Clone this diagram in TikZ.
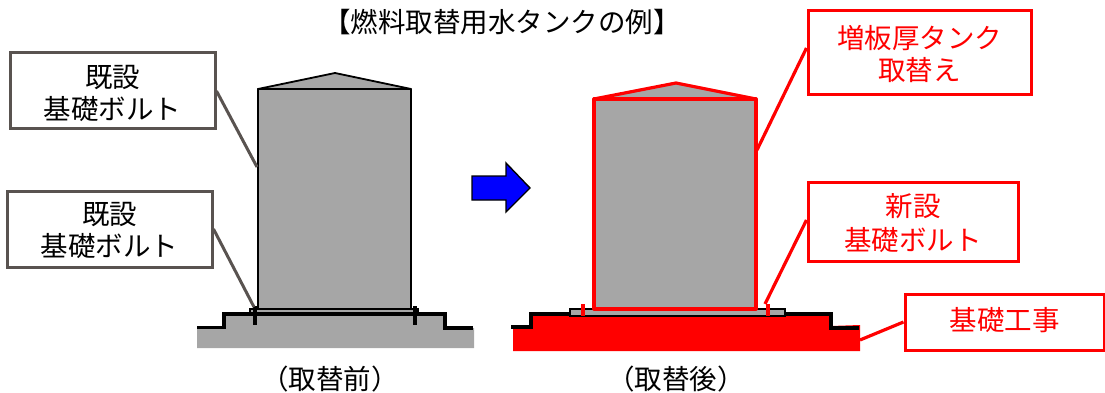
\documentclass[tikz,border=0pt]{standalone}
\usepackage{fontspec}
\setmainfont{Noto Sans CJK JP}
\definecolor{tankgray}{HTML}{A6A6A6}
\definecolor{boxgray}{HTML}{595350}
\definecolor{arrowblue}{HTML}{0000FF}
\newcommand\lowertext[2]{\raisebox{0pt}[\dimexpr\height+#1\relax][\depth]{\begin{tabular}{@{}c@{}}#2\end{tabular}}}
\tikzset{
  lab/.style={font=\fontsize{27.5}{32}\selectfont,align=center,inner sep=0pt,fill=white,line width=3pt},
  graybox/.style={lab,draw=boxgray,text=black},
  redbox/.style={lab,draw=red,text=red},
  plain/.style={font=\fontsize{27.5}{32}\selectfont,inner sep=0pt},
  leadgray/.style={draw=boxgray,line width=3pt},
  leadred/.style={draw=red,line width=3.2pt},
  tankblack/.style={fill=tankgray,draw=black,line width=1.8pt,line join=round},
  tankred/.style={fill=tankgray,draw=red,line width=3.2pt,line join=round},
  ground/.style={draw=black,line width=3.6pt},
  bolt/.style={line width=3.2pt}
}
\begin{document}
\begin{tikzpicture}[x=1pt,y=-1pt]
\useasboundingbox (0,0) rectangle (1105,393);
\node[plain] (title) at (502,22.5) {【燃料取替用水タンクの例】};
% left base
\fill[tankgray] (197,327) -- (224,327) -- (224,314) -- (445,314) -- (445,328) -- (474,328) -- (474,348) -- (197,348) -- cycle;
% left tank
\draw[tankblack] (258,89) -- (335,73) -- (411,89) -- cycle;
\draw[tankblack] (258,89) rectangle (411,309);
\draw[draw=black,line width=2.8pt] (258,89) -- (411,89);
\draw[fill=tankgray,draw=black,line width=1.4pt] (250,309) rectangle (418,314);
\draw[ground] (197,327.5) -- (224,327.5) -- (224,314) -- (445,314) -- (445,328) -- (473,328);
\draw[bolt] (255,306) -- (255,325);
\draw[bolt] (415,306) -- (415,325);
\coordinate (lt) at (257,167);
\coordinate (lb) at (254,307);
% boxes left
\node[graybox,minimum width=205pt,minimum height=76pt] (b1) at (112.5,91) {\lowertext{12pt}{既設\\[-1pt]基礎ボルト}};
\node[graybox,minimum width=205pt,minimum height=76pt] (b2) at (109.5,229) {\lowertext{10pt}{既設\\[-1pt]基礎ボルト}};
\draw[leadgray] (b1.east) -- (lt);
\draw[leadgray] (b2.east) -- (lb);
% arrow
\draw[fill=arrowblue,draw=black,line width=1.4pt,line join=miter] (472,176) -- (506,176) -- (506,163) -- (530,188) -- (506,212) -- (506,200) -- (472,200) -- cycle;
% right base
\fill[red] (513,327) -- (532,327) -- (532,314) -- (831,314) -- (831,326) -- (860,325) -- (860,351) -- (513,351) -- cycle;
\draw[ground] (511,327) -- (531,327) -- (531,314) -- (570,314);
\draw[ground] (785,314) -- (831,314) -- (831,328) -- (859,328);
\draw[fill=tankgray,draw=black,line width=1.6pt] (570,309) rectangle (785,316);
% right tank
\draw[tankred] (594,99) -- (676,83) -- (756,99) -- cycle;
\draw[tankred] (594,99) rectangle (756,309);
\draw[red,line width=4.6pt] (583,304) -- (583,316);
\draw[red,line width=4.6pt] (768,304) -- (768,316);
\coordinate (rt) at (757,150);
\coordinate (rm) at (765,304);
\coordinate (rb) at (860,340);
% boxes right
\node[redbox,minimum width=223pt,minimum height=84pt] (b3) at (919.5,53) {\lowertext{10pt}{増板厚タンク\\[-1pt]取替え}};
\node[redbox,minimum width=210pt,minimum height=79pt] (b4) at (913,221.5) {\lowertext{10pt}{新設\\[1pt]基礎ボルト}};
\node[redbox,minimum width=199pt,minimum height=56pt] (b5) at (1004.5,322) {\lowertext{4pt}{基礎工事}};
\draw[leadred] (rt) -- (b3.west |- 0,48);
\draw[leadred] (rm) -- (b4.west |- 0,220);
\draw[leadred] (rb) -- (b5.west);
\node[plain] (cap1) at (330,379) {（取替前）};
\node[plain] (cap2) at (676,379) {（取替後）};
\end{tikzpicture}
\end{document}
